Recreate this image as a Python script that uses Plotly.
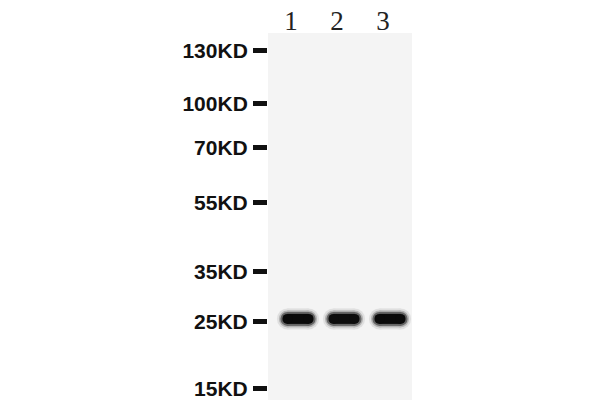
import plotly.graph_objects as go

# western blot, 3 lanes, one band near 25KD
lanes = [1, 2, 3]
lane_labels = ["1", "2", "3"]

# marker ladder: label and relative migration (0 = top of membrane, 1 = bottom)
marker_labels = ["130KD", "100KD", "70KD", "55KD", "35KD", "25KD", "15KD"]
marker_rf = [0.049, 0.193, 0.313, 0.463, 0.649, 0.787, 0.970]

# detected band in each lane
band_rf = [0.779, 0.779, 0.779]
band_intensity = [0.96, 0.95, 0.96]

half = 0.23  # half band length in lane units (without the round ends)

fig = go.Figure()

for lane, rf, inten in zip(lanes, band_rf, band_intensity):
    xs = [lane - half, lane + half]
    ys = [rf, rf]
    # soft blur around the band, widest first
    for w, op in [(21, 0.08), (17, 0.2), (14, 0.45)]:
        fig.add_trace(go.Scatter(
            x=xs, y=ys, mode="lines+markers",
            line=dict(color="black", width=w),
            marker=dict(size=w, color="black", symbol="circle"),
            opacity=op * inten, hoverinfo="skip", showlegend=False))
    # dark core
    g = int(round(255 * (1 - inten)))
    col = "rgb(%d,%d,%d)" % (g, g, g)
    fig.add_trace(go.Scatter(
        x=xs, y=ys, mode="lines+markers",
        line=dict(color=col, width=10),
        marker=dict(size=10, color=col, symbol="circle"),
        hoverinfo="skip", showlegend=False))

fig.update_layout(
    width=600, height=400,
    margin=dict(l=0, r=0, t=0, b=0),
    paper_bgcolor="white",
    plot_bgcolor="#f4f4f4",
    xaxis=dict(
        domain=[268 / 600, 412 / 600],
        range=[0.348, 3.478],
        side="top",
        tickvals=lanes, ticktext=lane_labels,
        ticks="", showgrid=False, zeroline=False, showline=False,
        tickfont=dict(family="Liberation Serif, DejaVu Serif, serif", size=27, color="#222"),
        ticklabelshift=-7,
        ticklabelstandoff=-3,
        automargin=False,
    ),
    yaxis=dict(
        domain=[0, 1 - 33 / 400],
        range=[1, 0],
        tickvals=marker_rf, ticktext=marker_labels,
        ticks="outside", ticklen=14, tickwidth=5, tickcolor="#111",
        showgrid=False, zeroline=False, showline=False,
        tickfont=dict(family="Liberation Sans, Arial, sans-serif",
                      size=21, color="#111", weight="bold"),
        ticklabelstandoff=1,
        ticklabeloverflow="allow",
        automargin=False,
    ),
)

fig.write_html("out.html", config={"displayModeBar": False},
               post_script="document.body.style.margin='0';")
